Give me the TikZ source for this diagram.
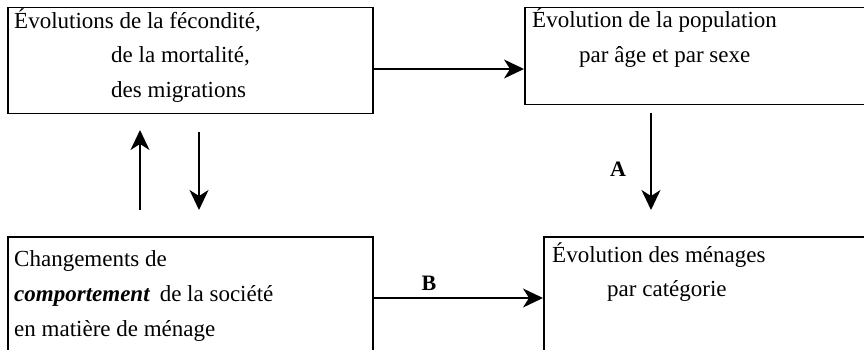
\documentclass[tikz,border=0pt]{standalone}
\usepackage{fontspec}
\setmainfont{Liberation Serif}
\usetikzlibrary{arrows.meta}
\tikzset{
  box/.style={draw, line width=1.5pt, rectangle, inner sep=0pt, anchor=north west},
  txt/.style={anchor=base west, inner sep=0pt, font=\fontsize{23}{27}\selectfont},
  lbl/.style={anchor=base, inner sep=0pt, font=\fontsize{22}{26}\selectfont\bfseries},
  arr/.style={line width=1.5pt, -{Stealth[length=20pt, width=19pt, inset=6pt]}},
}
\begin{document}
\begin{tikzpicture}[x=1pt, y=-1pt]
\useasboundingbox (0,0) rectangle (864,350);
\clip (0,0) rectangle (864,350);
\fill[white] (0,0) rectangle (864,350);
% boxes
\node[box, minimum width=365pt, minimum height=106pt] (b1) at (7,7) {};
\node[box, minimum width=380pt, minimum height=97pt] (b2) at (524,7) {};
\node[box, minimum width=365pt, minimum height=160pt] (b3) at (7,236) {};
\node[box, minimum width=380pt, minimum height=160pt] (b4) at (543,236) {};
% texts
\node[txt] (t1a) at (14,29) {Évolutions de la fécondité,};
\node[txt] (t1b) at (111,63) {de la mortalité,};
\node[txt] (t1c) at (111,98) {des migrations};
\node[txt] (t2a) at (532,28) {Évolution de la population};
\node[txt] (t2b) at (579,63) {par âge et par sexe};
\node[txt] (t3a) at (14,266) {Changements de};
\node[txt] (t3b) at (14,301) {\textbf{\textit{comportement}}\, de la société};
\node[txt] (t3c) at (14,336) {en matière de ménage};
\node[txt] (t4a) at (552,262) {Évolution des ménages};
\node[txt] (t4b) at (607,296) {par catégorie};
% connectors
\coordinate (u0) at (140,210);
\coordinate (u1) at (140,130);
\coordinate (d0) at (199,132);
\coordinate (d1) at (199,210);
\coordinate (a0) at (651,113);
\coordinate (a1) at (651,210);
\draw[arr] (b1.east |- 0,69) -- (b2.west |- 0,69);
\draw[arr] (u0) -- (u1);
\draw[arr] (d0) -- (d1);
\draw[arr] (a0) -- (a1);
\draw[arr] (b3.east |- 0,298) -- (b4.west |- 0,298);
\node[lbl] (A) at (618,176) {A};
\node[lbl] (B) at (429,290) {B};
\end{tikzpicture}
\end{document}
